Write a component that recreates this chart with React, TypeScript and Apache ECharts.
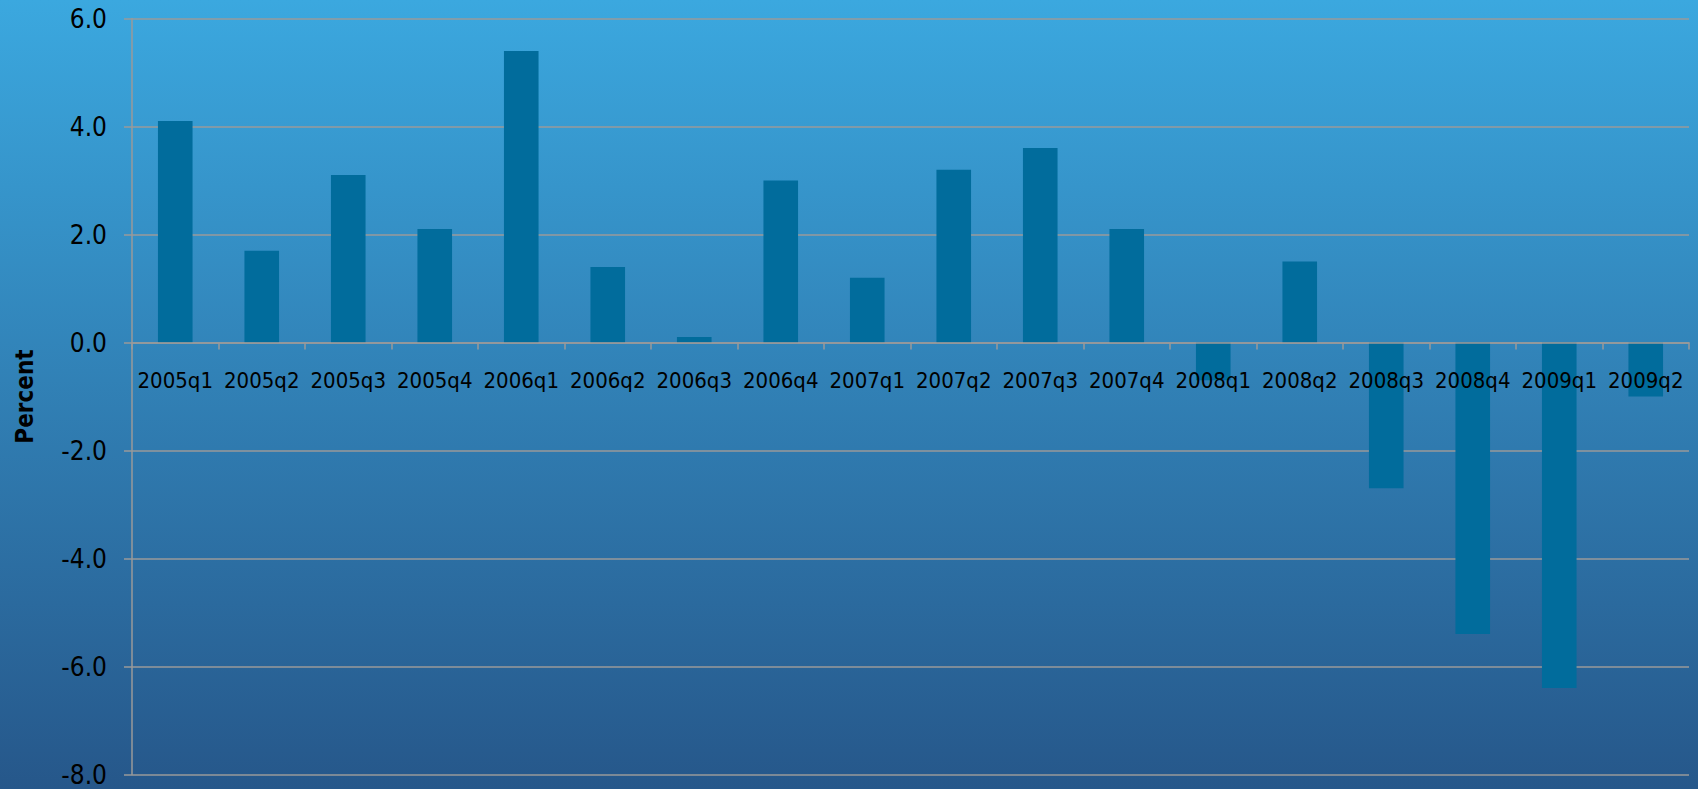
import React, { useEffect, useRef } from "react";
import * as echarts from "echarts";

const categories = [
  "2005q1", "2005q2", "2005q3", "2005q4",
  "2006q1", "2006q2", "2006q3", "2006q4",
  "2007q1", "2007q2", "2007q3", "2007q4",
  "2008q1", "2008q2", "2008q3", "2008q4",
  "2009q1", "2009q2",
];

const percentValues = [
  4.1, 1.7, 3.1, 2.1,
  5.4, 1.4, 0.1, 3.0,
  1.2, 3.2, 3.6, 2.1,
  -0.7, 1.5, -2.7, -5.4,
  -6.4, -1.0,
];

const yMin = -8;
const yMax = 6;
const yInterval = 2;

const FONT = "'DejaVu Sans Condensed', 'DejaVu Sans', sans-serif";

const GRID_TOP = 18.5;
const GRID_BOTTOM = 14.5;
const HEIGHT = 789;

export default function App() {
  const ref = useRef<HTMLDivElement>(null);

  useEffect(() => {
    document.body.style.margin = "0";
    if (!ref.current) return;
    const chart = echarts.init(ref.current, null, { renderer: "svg" });
    const plotH = HEIGHT - GRID_TOP - GRID_BOTTOM;
    const zeroFromBottom = (plotH * (0 - yMin)) / (yMax - yMin);
    chart.setOption({
      animation: false,
      backgroundColor: new echarts.graphic.LinearGradient(0, 0, 0, 1, [
        { offset: 0, color: "#3ba8df" },
        { offset: 1, color: "#26578a" },
      ]),
      grid: { left: 132, right: 9, top: GRID_TOP, bottom: GRID_BOTTOM, containLabel: false },
      xAxis: {
        type: "category",
        data: categories,
        z: 10,
        position: "bottom",
        offset: -zeroFromBottom,
        axisLine: { onZero: false, lineStyle: { color: "#9a9a9a", width: 1.5 } },
        axisTick: { show: true, length: 7, lineStyle: { color: "#9a9a9a", width: 1.5 } },
        axisLabel: {
          color: "#000",
          fontFamily: FONT,
          fontSize: 22,
          margin: 27,
          interval: 0,
        },
        splitLine: { show: false },
      },
      yAxis: {
        type: "value",
        min: yMin,
        max: yMax,
        interval: yInterval,
        name: "Percent",
        nameLocation: "middle",
        nameRotate: 90,
        nameGap: 107,
        nameTextStyle: {
          color: "#000",
          fontFamily: FONT,
          fontWeight: "bold",
          fontSize: 24,
          verticalAlign: "middle",
        },
        axisLine: { show: true, lineStyle: { color: "#9a9a9a", width: 1.5 } },
        axisTick: { show: true, length: 8, lineStyle: { color: "#9a9a9a", width: 1.5 } },
        axisLabel: {
          color: "#000",
          fontFamily: FONT,
          fontSize: 26,
          margin: 25,
          formatter: (v: number) => v.toFixed(1),
        },
        splitLine: { show: true, lineStyle: { color: "#9a9a9a", width: 1.5 } },
      },
      series: [
        {
          type: "bar",
          data: percentValues,
          barWidth: "40%",
          itemStyle: { color: "#016c9c" },
        },
      ],
    });
    return () => chart.dispose();
  }, []);

  return <div ref={ref} style={{ width: 1698, height: 789 }} />;
}
